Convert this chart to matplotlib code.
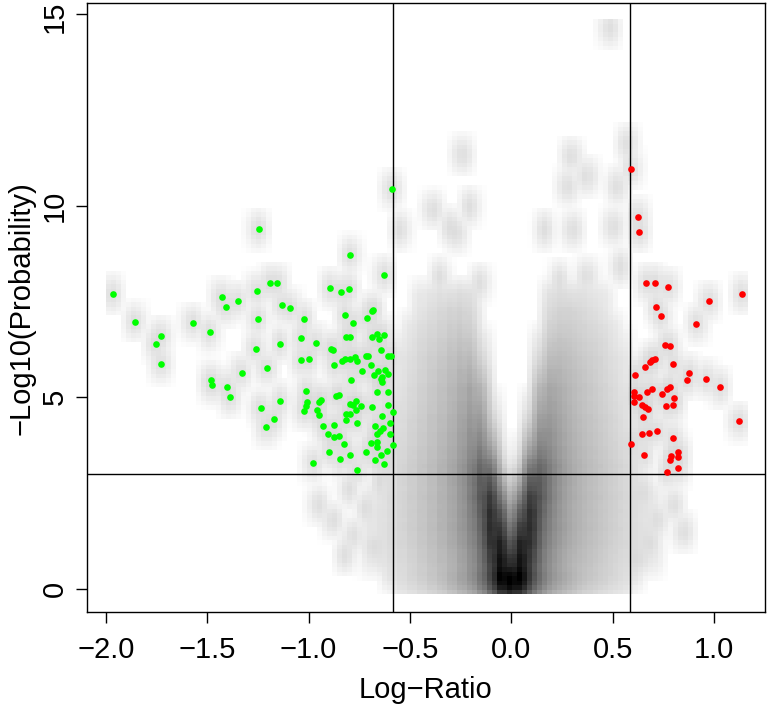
import numpy as np
import matplotlib.pyplot as plt
from matplotlib.colors import LinearSegmentedColormap
from matplotlib.transforms import ScaledTranslation

# significant, down-regulated (green)
green_x = [-0.589, -1.245, -0.796, -0.628, -1.967, -1.190, -1.154, -1.253, -1.429, -1.350,
           -1.407, -0.894, -0.838, -0.802, -1.131, -1.090, -1.248, -1.021, -1.856, -1.570,
           -1.488, -0.822, -0.780, -0.712, -0.687, -0.682, -1.728, -1.754, -1.727, -1.261,
           -1.143, -1.036, -0.965, -0.891, -0.878, -0.817, -0.797, -0.689, -0.664, -0.651,
           -0.630, -0.644, -0.610, -0.595, -1.039, -0.997, -0.876, -0.835, -0.822, -0.797,
           -0.773, -0.763, -0.717, -0.707, -0.694, -0.735, -0.679, -0.656, -0.638, -0.636,
           -0.625, -0.610, -1.207, -1.330, -1.481, -1.474, -1.401, -1.386, -0.789, -1.011,
           -0.936, -0.948, -1.008, -1.010, -1.024, -1.236, -1.143, -1.171, -1.208, -0.866,
           -0.849, -0.797, -0.779, -0.765, -0.743, -0.768, -0.814, -0.794, -0.815, -0.760,
           -0.689, -0.663, -0.643, -0.607, -0.610, -0.636, -0.600, -0.960, -0.949, -0.930,
           -0.904, -0.875, -0.850, -0.876, -0.827, -0.674, -0.663, -0.648, -0.633, -0.694,
           -0.663, -0.661, -0.584, -0.597, -0.585, -0.899, -0.845, -0.761, -0.717, -0.673,
           -0.643, -0.614, -0.628, -0.796, -0.977]
green_y = [10.43, 9.39, 8.72, 8.20, 7.70, 7.98, 7.98, 7.78, 7.62, 7.52,
           7.36, 7.86, 7.76, 7.83, 7.41, 7.33, 7.05, 7.05, 6.97, 6.95,
           6.70, 7.16, 6.95, 7.08, 7.24, 7.27, 6.60, 6.39, 5.88, 6.27,
           6.40, 6.55, 6.42, 6.26, 6.24, 6.57, 6.57, 6.57, 6.65, 6.51,
           6.62, 6.23, 6.09, 6.09, 5.97, 6.00, 5.84, 5.96, 5.99, 6.01,
           6.04, 5.95, 6.09, 6.08, 5.84, 5.70, 5.59, 5.70, 5.54, 5.39,
           5.71, 5.62, 5.77, 5.64, 5.44, 5.31, 5.26, 5.01, 5.45, 5.17,
           4.94, 4.89, 4.88, 4.78, 4.65, 4.73, 4.90, 4.44, 4.23, 5.03,
           5.07, 4.83, 4.79, 4.90, 4.78, 4.68, 4.57, 4.56, 4.41, 4.34,
           4.75, 5.14, 5.48, 5.15, 4.80, 4.51, 4.33, 4.66, 4.53, 4.24,
           4.04, 3.96, 3.99, 4.28, 3.77, 4.25, 4.05, 4.12, 4.21, 3.82,
           3.84, 3.71, 3.76, 4.05, 4.63, 3.57, 3.39, 3.10, 3.57, 3.37,
           3.50, 3.60, 3.26, 3.50, 3.29]

# significant, up-regulated (red)
red_x = [0.589, 0.623, 0.630, 0.665, 0.707, 0.772, 1.137, 0.974, 0.714, 0.737,
         0.913, 0.758, 0.783, 0.686, 0.696, 0.709, 0.658, 0.798, 0.612, 0.878,
         0.865, 0.962, 1.028, 0.605, 0.608, 0.630, 0.608, 0.668, 0.694, 0.743,
         0.770, 0.784, 0.804, 0.799, 0.766, 0.643, 0.660, 0.676, 0.648, 1.123,
         0.643, 0.681, 0.720, 0.796, 0.592, 0.655, 0.788, 0.783, 0.824, 0.824,
         0.822, 0.767]
red_y = [10.97, 9.70, 9.31, 7.98, 7.99, 7.88, 7.70, 7.51, 7.35, 7.11,
         6.92, 6.36, 6.34, 5.92, 5.97, 5.99, 5.80, 5.86, 5.58, 5.63,
         5.44, 5.47, 5.26, 5.13, 5.04, 5.02, 4.89, 5.14, 5.23, 5.08,
         5.21, 5.26, 4.97, 4.81, 4.77, 4.79, 4.74, 4.70, 4.48, 4.37,
         4.04, 4.08, 4.13, 3.94, 3.79, 3.49, 3.46, 3.37, 3.57, 3.45,
         3.15, 3.04]

# isolated non-significant proteins outside the dense core
bg_x = [0.484, -0.240, 0.569, 0.298, 0.372, 0.281, 0.520, -0.385, -0.204, -0.549,
        -0.302, 0.166, 0.306, 0.503, -0.352, -0.154, 0.240, 0.372, 0.536, -0.27,
        -0.95, -0.88, -0.80, -0.78, -0.72, -0.68, -0.65, -0.82, 0.65, 0.72,
        0.80, 0.68, 0.85, 0.62]
bg_y = [14.63, 11.32, 11.60, 11.28, 10.76, 10.50, 10.50, 9.89, 9.97, 9.37,
        9.45, 9.37, 9.37, 9.45, 8.15, 7.98, 8.06, 8.15, 8.41, 9.28,
        2.2, 1.8, 2.6, 1.4, 2.1, 1.1, 2.8, 0.9, 2.5, 1.8,
        2.2, 1.2, 1.5, 0.8]

# amount of non-significant proteins in the dense core (rows = core_y, cols = core_x)
core_x = [-0.75, -0.70, -0.65, -0.60, -0.55, -0.50, -0.45, -0.40, -0.35, -0.30, -0.25,
          -0.20, -0.15, -0.10, -0.05, 0.00, 0.05, 0.10, 0.15, 0.20, 0.25, 0.30,
          0.35, 0.40, 0.45, 0.50, 0.55, 0.60, 0.65, 0.70, 0.75]
core_y = [0.1, 0.4, 0.8, 1.2, 1.6, 2.0, 2.4, 2.8, 3.2, 3.6,
          4.0, 4.4, 4.8, 5.2, 5.6, 6.0, 6.4, 6.8, 7.2, 7.6]
core_n = [
    [0, 0, 0, 0, 0.5, 1, 2, 4, 7, 17, 35, 65, 176, 560, 2240, 3000, 2240, 560, 176, 65, 35, 17, 7, 4, 2, 1, 0.5, 0, 0, 0, 0],
    [0, 0, 0, 0.5, 1, 2, 4, 7, 12, 23, 45, 90, 230, 770, 2820, 2000, 2820, 770, 230, 90, 45, 23, 12, 7, 4, 2, 1, 0.5, 0, 0, 0],
    [0, 0.2, 0.5, 0.9, 1.6, 2.8, 5.6, 10, 17, 26, 51, 110, 270, 1030, 2580, 1030, 2580, 1030, 270, 110, 51, 26, 17, 10, 5.6, 2.8, 1.6, 0.9, 0.5, 0.2, 0],
    [0, 0.3, 0.6, 1.2, 2.2, 3.6, 7, 12, 20, 35, 65, 134, 315, 1360, 1950, 390, 1950, 1360, 315, 134, 65, 35, 20, 12, 7, 3.6, 2.2, 1.2, 0.6, 0.3, 0],
    [0, 0.3, 0.6, 1.2, 2.2, 4.5, 8, 14, 23, 40, 80, 160, 390, 1590, 1160, 134, 1160, 1590, 390, 160, 80, 40, 23, 14, 8, 4.5, 2.2, 1.2, 0.6, 0.3, 0],
    [0, 0.3, 0.6, 1.2, 2.2, 4.5, 8, 14, 23, 40, 80, 176, 485, 1590, 560, 35, 560, 1590, 485, 176, 80, 40, 23, 14, 8, 4.5, 2.2, 1.2, 0.6, 0.3, 0],
    [0, 0.2, 0.4, 1.2, 2.2, 4.5, 8, 14, 23, 40, 80, 193, 560, 1160, 176, 4.5, 176, 1160, 560, 193, 80, 40, 23, 14, 8, 4.5, 2.2, 1.2, 0.4, 0.2, 0],
    [0, 0, 0.4, 0.9, 2.2, 4.5, 8, 14, 23, 45, 90, 210, 560, 635, 35, 0.4, 35, 635, 560, 210, 90, 45, 23, 14, 8, 4.5, 2.2, 0.9, 0.4, 0, 0],
    [0, 0, 0, 0.9, 2.2, 4.5, 8, 14, 23, 40, 80, 176, 390, 230, 2.2, 0, 2.2, 230, 390, 176, 80, 40, 23, 14, 8, 4.5, 2.2, 0.9, 0, 0, 0],
    [0, 0, 0, 0.6, 1.6, 3.6, 7, 12, 20, 35, 65, 134, 230, 65, 0.2, 0, 0.2, 65, 230, 134, 65, 35, 20, 12, 7, 3.6, 1.6, 0.6, 0, 0, 0],
    [0, 0, 0, 0.4, 1.2, 2.8, 5.6, 10, 17, 30, 57, 110, 134, 17, 0, 0, 0, 17, 134, 110, 57, 30, 17, 10, 5.6, 2.8, 1.2, 0.4, 0, 0, 0],
    [0, 0, 0, 0.2, 1, 2.4, 5, 9, 15, 25, 48, 85, 80, 3, 0, 0, 0, 3, 80, 85, 48, 25, 15, 9, 5, 2.4, 1, 0.2, 0, 0, 0],
    [0, 0, 0, 0, 0.8, 1.9, 4, 7.5, 13, 21, 40, 65, 45, 0.5, 0, 0, 0, 0.5, 45, 65, 40, 21, 13, 7.5, 4, 1.9, 0.8, 0, 0, 0, 0],
    [0, 0, 0, 0, 0.5, 1.5, 3.3, 6.5, 11, 19, 32, 50, 25, 0, 0, 0, 0, 0, 25, 50, 32, 19, 11, 6.5, 3.3, 1.5, 0.5, 0, 0, 0, 0],
    [0, 0, 0, 0, 0.4, 1.2, 2.7, 5.5, 10, 16, 25, 33, 9, 0, 0, 0, 0, 0, 9, 33, 25, 16, 10, 5.5, 2.7, 1.2, 0.4, 0, 0, 0, 0],
    [0, 0, 0, 0, 0.4, 0.9, 2.2, 4.5, 7, 12, 17, 17, 2.2, 0, 0, 0, 0, 0, 2.2, 17, 17, 12, 7, 4.5, 2.2, 0.9, 0.4, 0, 0, 0, 0],
    [0, 0, 0, 0, 0.1, 0.5, 1.7, 3, 5, 8, 11, 9, 0.6, 0, 0, 0, 0, 0, 0.6, 9, 11, 8, 5, 3, 1.7, 0.5, 0.1, 0, 0, 0, 0],
    [0, 0, 0, 0, 0, 0.3, 1, 2, 3, 5, 6, 4, 0, 0, 0, 0, 0, 0, 0, 4, 6, 5, 3, 2, 1, 0.3, 0, 0, 0, 0, 0],
    [0, 0, 0, 0, 0, 0, 0.4, 1, 2, 3, 3.5, 2, 0, 0, 0, 0, 0, 0, 0, 2, 3.5, 3, 2, 1, 0.4, 0, 0, 0, 0, 0, 0],
    [0, 0, 0, 0, 0, 0, 0.3, 0.5, 1, 1, 1.5, 1, 0, 0, 0, 0, 0, 0, 0, 1, 1.5, 1, 1, 0.5, 0.3, 0, 0, 0, 0, 0, 0],
]

ratio_cut = 0.585
prob_cut = 3
xticks = [-2.0, -1.5, -1.0, -0.5, 0.0, 0.5, 1.0]
yticks = [0, 5, 10, 15]


def smooth_density(px, py, pw, nbin=128, bw=(0.018, 0.17)):
    """Binned 2d kernel density, same idea as R smoothScatter"""
    x0, x1 = px.min() - bw[0], px.max() + bw[0]
    y0, y1 = py.min() - bw[1], py.max() + bw[1]
    dx = (x1 - x0) / (nbin - 1)
    dy = (y1 - y0) / (nbin - 1)
    fx = (px - x0) / dx
    fy = (py - y0) / dy
    ix = np.clip(np.floor(fx).astype(int), 0, nbin - 2)
    iy = np.clip(np.floor(fy).astype(int), 0, nbin - 2)
    rx = fx - ix
    ry = fy - iy
    grid = np.zeros((nbin, nbin))
    np.add.at(grid, (ix, iy), pw * (1 - rx) * (1 - ry))
    np.add.at(grid, (ix + 1, iy), pw * rx * (1 - ry))
    np.add.at(grid, (ix, iy + 1), pw * (1 - rx) * ry)
    np.add.at(grid, (ix + 1, iy + 1), pw * rx * ry)
    lx = int(3.4 * bw[0] / dx)
    ly = int(3.4 * bw[1] / dy)
    kx = np.exp(-0.5 * (np.arange(-lx, lx + 1) * dx / bw[0]) ** 2)
    ky = np.exp(-0.5 * (np.arange(-ly, ly + 1) * dy / bw[1]) ** 2)
    grid = np.apply_along_axis(lambda r: np.convolve(r, kx, mode='same'), 0, grid)
    grid = np.apply_along_axis(lambda r: np.convolve(r, ky, mode='same'), 1, grid)
    extent = [x0 - dx / 2, x1 + dx / 2, y0 - dy / 2, y1 + dy / 2]
    return grid, extent


cx, cy = np.meshgrid(core_x, core_y)
cn = np.array(core_n, dtype=float)
keep = cn > 0
all_x = np.concatenate([cx[keep], bg_x, green_x, red_x])
all_y = np.concatenate([cy[keep], bg_y, green_y, red_y])
all_w = np.concatenate([cn[keep], np.ones(len(bg_x) + len(green_x) + len(red_x))])

dens, extent = smooth_density(all_x, all_y, all_w)
dens = dens ** 0.25

plt.rcParams['font.family'] = ['Liberation Sans', 'DejaVu Sans']

fig = plt.figure(figsize=(7.69, 7.04), dpi=100)
ax = fig.add_axes([0.1131, 0.1307, 0.8817, 0.8646])

white_black = LinearSegmentedColormap.from_list('wb', ['white', 'black'], N=256)
ax.imshow(dens.T, origin='lower', extent=extent, cmap=white_black,
          vmin=0, vmax=dens.max(), interpolation='nearest', aspect='auto', zorder=1)

ax.axvline(-ratio_cut, color='black', lw=1.0, zorder=2)
ax.axvline(ratio_cut, color='black', lw=1.0, zorder=2)
ax.axhline(prob_cut, color='black', lw=1.0, zorder=2)

ax.scatter(green_x, green_y, s=23, color='#00ff00', linewidths=0, zorder=3)
ax.scatter(red_x, red_y, s=23, color='#ff0000', linewidths=0, zorder=3)

ax.set_xlim(-2.093, 1.252)
ax.set_ylim(-0.60, 15.28)
ax.set_xticks(xticks)
ax.set_xticklabels(['\u22122.0', '\u22121.5', '\u22121.0', '\u22120.5', '0.0', '0.5', '1.0'])
ax.set_yticks(yticks)
ax.set_yticklabels([str(t) for t in yticks], rotation=90, va='center')
ax.tick_params(length=8, width=1.0, labelsize=21)
ax.tick_params(axis='x', pad=9)
ax.tick_params(axis='y', pad=5)
for sp in ax.spines.values():
    sp.set_linewidth(1.0)

# keep the top label "15" inside the canvas
top_label = ax.get_yticklabels()[-1]
top_label.set_transform(top_label.get_transform()
                        + ScaledTranslation(0, -3 / 100, fig.dpi_scale_trans))

ax.set_xlabel('Log\u2212Ratio', fontsize=21)
ax.xaxis.set_label_coords(0.5, -0.128)
ax.xaxis.label.set_va('center')
ax.set_ylabel('\u2212Log10(Probability)', fontsize=21)
ax.yaxis.set_label_coords(-0.097, 0.5)
ax.yaxis.label.set_va('center')

fig.savefig('out.png', dpi=100)
